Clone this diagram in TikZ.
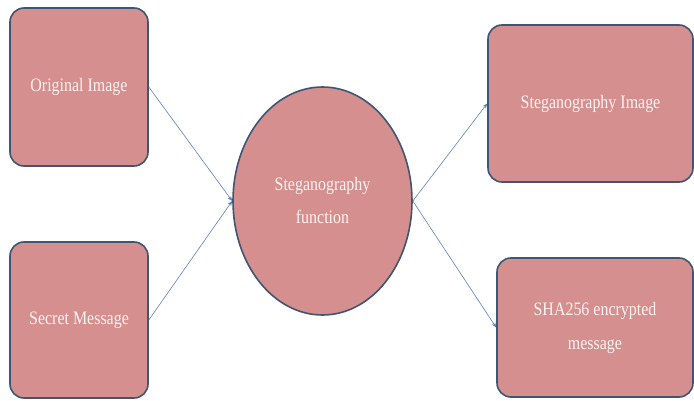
\documentclass[tikz,border=0pt]{standalone}
\usepackage{fontspec}
\setmainfont[FakeStretch=0.84]{Liberation Serif}
\usetikzlibrary{shapes.geometric,arrows.meta}
\definecolor{boxfill}{HTML}{D48F8E}
\definecolor{boxline}{HTML}{3F5573}
\definecolor{arrowc}{HTML}{5B80B8}
\definecolor{txt}{HTML}{FDF2F0}
\tikzset{
  procbox/.style={draw=boxline, line width=1.6pt, fill=boxfill, rounded corners=14pt,
    inner sep=0pt, align=center, text=txt, font=\fontsize{19}{34}\selectfont},
  funcell/.style={ellipse, draw=boxline, line width=1.6pt, fill=boxfill,
    inner sep=0pt, align=center, text=txt, font=\fontsize{19}{33}\selectfont},
  flow/.style={draw=arrowc, line width=0.6pt, -{Stealth[length=5pt,width=4pt]}}
}
\begin{document}
\begin{tikzpicture}[x=1pt,y=1pt]
\useasboundingbox (0,0) rectangle (694,400);
\node[procbox, minimum width=138pt, minimum height=158pt] (orig) at (79,313) {Original Image};
\node[procbox, minimum width=138pt, minimum height=156pt] (secret) at (79,80) {Secret Message};
\node[funcell, minimum width=179pt, minimum height=228pt] (func) at (322.5,199) {Steganography\\function};
\node[procbox, minimum width=205pt, minimum height=157pt] (stego) at (590.5,296.5) {Steganography Image};
\node[procbox, minimum width=196pt, minimum height=139pt] (sha) at (595,72.5) {SHA256 encrypted\\message};
\draw[flow] (orig.east) -- (func.west);
\draw[flow] (secret.east) -- (func.west);
\draw[flow] (func.east) -- (stego.west);
\draw[flow] (func.east) -- (sha.west);
\end{tikzpicture}
\end{document}
